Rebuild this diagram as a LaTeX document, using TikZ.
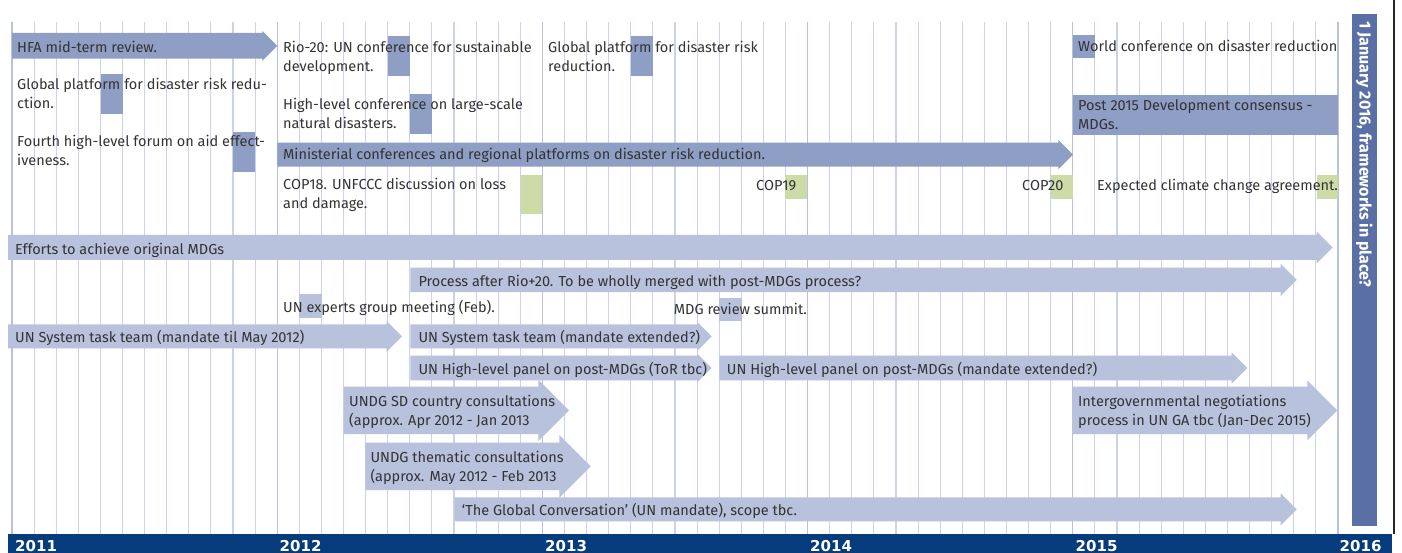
\documentclass[tikz,border=0pt]{standalone}
\usepackage{fontspec}
\setmainfont{Fira Sans}
\newfontfamily\yearfont{DejaVu Sans}
\definecolor{dbar}{HTML}{8E9EC4}
\definecolor{lbar}{HTML}{B9C2DD}
\definecolor{gbar}{HTML}{CDDBA7}
\definecolor{gridc}{HTML}{CCD2E9}
\definecolor{gridy}{HTML}{B9C1DE}
\definecolor{vbar}{HTML}{5A6FA5}
\definecolor{band}{HTML}{063C7C}
\definecolor{txt}{HTML}{333333}
\newcommand\tlarrow[6]{% color, x0, head base, tip, ytop, ybot
  \pgfmathsetmacro\tlyc{(#5+#6)/2}\pgfmathsetmacro\tlhh{#4-#3}%
  \fill[#1] (#2,#5) -- (#3,#5) -- (#3,{\tlyc-\tlhh}) -- (#4,\tlyc) -- (#3,{\tlyc+\tlhh}) -- (#3,#6) -- (#2,#6) -- cycle;}
\newcommand\twol[2]{\begin{tabular}[t]{@{}l@{}}#1\\#2\end{tabular}}
\begin{document}
\begin{tikzpicture}[x=1pt,y=-1pt,
  lbl/.style={anchor=base west, inner sep=0pt, text=txt, font=\fontsize{14.5}{19}\selectfont},
  yearlbl/.style={anchor=base west, inner sep=0pt, text=white, font=\yearfont\bfseries\fontsize{15}{15}\selectfont}]
\useasboundingbox (0,0) rectangle (1402,553);
\fill[white] (0,0) rectangle (1402,553);
% grid
\foreach \i in {0,...,60} \draw[gridc, line width=1.1pt] ({12+22.1*\i},22) -- ({12+22.1*\i},535);
\foreach \i in {0,...,5} \draw[gridy, line width=1.1pt] ({12+265.2*\i},22) -- ({12+265.2*\i},535);
% dark event bars
\tlarrow{dbar}{12}{262.3}{277.3}{33}{58.7}
\tlarrow{dbar}{277.3}{1058.3}{1073}{142.7}{166.7}
\fill[dbar] (388,36) rectangle (410,75.7);
\fill[dbar] (631,36) rectangle (653,75.7);
\fill[dbar] (1073,34.7) rectangle (1095,58.3);
\fill[dbar] (100.7,74) rectangle (122.7,113.7);
\fill[dbar] (410,94.3) rectangle (432,134.3);
\fill[dbar] (1073,94.7) rectangle (1338,134.7);
\fill[dbar] (233.3,131.7) rectangle (255.3,171.7);
% green
\fill[gbar] (520.7,174.7) rectangle (542.3,214.3);
\fill[gbar] (785.3,174.7) rectangle (807.3,198.7);
\fill[gbar] (1051,174.7) rectangle (1072.7,198.7);
\fill[gbar] (1316.7,174.7) rectangle (1337.7,198.7);
% light process bars
\tlarrow{lbar}{8}{1316.7}{1332.7}{235}{260}
\tlarrow{lbar}{410.3}{1280.7}{1296.7}{267.7}{292}
\fill[lbar] (299,294) rectangle (321.7,318.3);
\fill[lbar] (719.3,297.7) rectangle (741.7,320.7);
\tlarrow{lbar}{8}{386.7}{402}{324.3}{348.3}
\tlarrow{lbar}{410.3}{697.3}{711.7}{324.3}{348.3}
\tlarrow{lbar}{410.3}{697.3}{711.7}{355.7}{380.3}
\tlarrow{lbar}{719.3}{1231.7}{1247.3}{355.7}{380.3}
\tlarrow{lbar}{343.7}{538.3}{569}{386.7}{434}
\tlarrow{lbar}{365.3}{559.3}{590.7}{442.7}{490}
\tlarrow{lbar}{454.7}{1280.7}{1296.7}{497.3}{521.3}
\tlarrow{lbar}{1073}{1307.3}{1337.3}{386.7}{434}
% labels
\node[lbl] (hfa) at (17,52.7) {HFA mid-term review.};
\node[lbl] (rio) at (283,52.7) {\twol{Rio-20: UN conference for sustainable}{development.}};
\node[lbl] (gp13) at (548,52.7) {\twol{Global platform for disaster risk}{reduction.}};
\node[lbl] (wcdr) at (1078,52) {World conference on disaster reduction};
\node[lbl] (gp11) at (17,89.5) {\twol{Global platform for disaster risk redu-}{ction.}};
\node[lbl] (hlc) at (283,109.7) {\twol{High-level conference on large-scale}{natural disasters.}};
\node[lbl] (post) at (1078,111) {\twol{Post 2015 Development consensus -}{MDGs.}};
\node[lbl] (fourth) at (17,146.7) {\twol{Fourth high-level forum on aid effect-}{iveness.}};
\node[lbl] (min) at (283,160) {Ministerial conferences and regional platforms on disaster risk reduction.};
\node[lbl] (cop18) at (283,189.3) {\twol{COP18. UNFCCC discussion on loss}{and damage.}};
\node[lbl] (cop19) at (756,191) {COP19};
\node[lbl] (cop20) at (1022,191) {COP20};
\node[lbl] (expc) at (1097,191) {Expected climate change agreement.};
\node[lbl] (eff) at (15,254.3) {Efforts to achieve original MDGs};
\node[lbl] (proc) at (418.3,286.7) {Process after Rio+20. To be wholly merged with post-MDGs process?};
\node[lbl] (uneg) at (283,312.7) {UN experts group meeting (Feb).};
\node[lbl] (mdg) at (673.7,314.3) {MDG review summit.};
\node[lbl] (unst1) at (15,342.7) {UN System task team (mandate til May 2012)};
\node[lbl] (unst2) at (418.3,342.7) {UN System task team (mandate extended?)};
\node[lbl] (unhl1) at (418.3,374.3) {UN High-level panel on post-MDGs (ToR tbc)};
\node[lbl] (unhl2) at (726.7,374.3) {UN High-level panel on post-MDGs (mandate extended?)};
\node[lbl] (undg1) at (349,406.7) {\twol{UNDG SD country consultations}{(approx. Apr 2012 - Jan 2013}};
\node[lbl] (undg2) at (370.3,462.3) {\twol{UNDG thematic consultations}{(approx. May 2012 - Feb 2013}};
\node[lbl] (gc) at (461.7,515) {‘The Global Conversation’ (UN mandate), scope tbc.};
\node[lbl] (igov) at (1078,406.7) {\twol{Intergovernmental negotiations}{process in UN GA tbc (Jan-Dec 2015)}};
% right bar
\fill[vbar] (1352.3,14) rectangle (1376.7,526);
\node[rotate=-90, anchor=base west, inner sep=0pt, text=white, font=\bfseries\fontsize{16}{18}\selectfont] (jan) at (1359.5,21) {1 January 2016, frameworks in place?};
\draw[black!85, line width=1.5pt] (1393.8,0) -- (1393.8,534.3);
% year band
\fill[band] (8,534.3) rectangle (1391.7,553);
\node[yearlbl] (y11) at (15,551.5) {2011};
\node[yearlbl] (y12) at (279.5,551.5) {2012};
\node[yearlbl] (y13) at (545,551.5) {2013};
\node[yearlbl] (y14) at (810,551.5) {2014};
\node[yearlbl] (y15) at (1075.5,551.5) {2015};
\node[yearlbl] (y16) at (1339.5,551.5) {2016};
\end{tikzpicture}
\end{document}
